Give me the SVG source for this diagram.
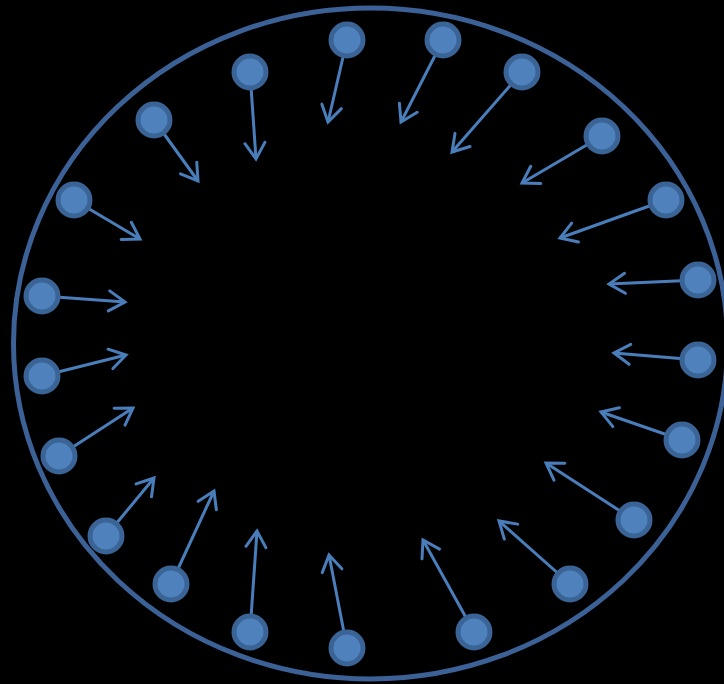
<svg xmlns="http://www.w3.org/2000/svg" width="724" height="684" viewBox="0 0 724 684">
<defs>
<marker id="ah" markerUnits="userSpaceOnUse" markerWidth="24" markerHeight="24" viewBox="-20 -12 24 24" refX="0" refY="0" orient="auto" overflow="visible">
<path d="M -16 -10 L 0 0 L -16 10" fill="none" stroke="#4a7ebb" stroke-width="3" stroke-linecap="round" stroke-linejoin="miter"/>
</marker>
</defs>
<style>
.n{fill:#4f81bd;stroke:#3a6396;stroke-width:5}
.c{stroke:#4a7ebb;stroke-width:3;fill:none;marker-end:url(#ah)}
</style>
<rect width="724" height="684" fill="#000"/>
<ellipse id="ring" cx="370.5" cy="343.5" rx="357" ry="335.5" fill="none" stroke="#3b6196" stroke-width="5"/>
<g id="connectors">
<line class="c" x1="347" y1="40" x2="328" y2="122"/>
<line class="c" x1="443" y1="40" x2="401" y2="122"/>
<line class="c" x1="522" y1="72" x2="452" y2="152"/>
<line class="c" x1="602" y1="136" x2="522" y2="183"/>
<line class="c" x1="666" y1="200" x2="560" y2="238"/>
<line class="c" x1="698" y1="280" x2="609" y2="284"/>
<line class="c" x1="698" y1="360" x2="614" y2="353"/>
<line class="c" x1="682" y1="440" x2="601" y2="412"/>
<line class="c" x1="634" y1="520" x2="546" y2="463"/>
<line class="c" x1="570" y1="584" x2="499" y2="521"/>
<line class="c" x1="474" y1="632" x2="423" y2="540"/>
<line class="c" x1="347" y1="648" x2="329" y2="555"/>
<line class="c" x1="250" y1="632" x2="257" y2="531"/>
<line class="c" x1="171" y1="584" x2="214" y2="491"/>
<line class="c" x1="106" y1="536" x2="154" y2="478"/>
<line class="c" x1="59" y1="456" x2="133" y2="408"/>
<line class="c" x1="42" y1="376" x2="126" y2="355"/>
<line class="c" x1="42" y1="296" x2="125" y2="302"/>
<line class="c" x1="74" y1="200" x2="140" y2="239"/>
<line class="c" x1="154" y1="120" x2="198" y2="181"/>
<line class="c" x1="250" y1="72" x2="256" y2="159"/>
</g>
<g id="n1"><circle class="n" cx="347" cy="40" r="16"/></g>
<g id="n2"><circle class="n" cx="443" cy="40" r="16"/></g>
<g id="n3"><circle class="n" cx="522" cy="72" r="16"/></g>
<g id="n4"><circle class="n" cx="602" cy="136" r="16"/></g>
<g id="n5"><circle class="n" cx="666" cy="200" r="16"/></g>
<g id="n6"><circle class="n" cx="698" cy="280" r="16"/></g>
<g id="n7"><circle class="n" cx="698" cy="360" r="16"/></g>
<g id="n8"><circle class="n" cx="682" cy="440" r="16"/></g>
<g id="n9"><circle class="n" cx="634" cy="520" r="16"/></g>
<g id="n10"><circle class="n" cx="570" cy="584" r="16"/></g>
<g id="n11"><circle class="n" cx="474" cy="632" r="16"/></g>
<g id="n12"><circle class="n" cx="347" cy="648" r="16"/></g>
<g id="n13"><circle class="n" cx="250" cy="632" r="16"/></g>
<g id="n14"><circle class="n" cx="171" cy="584" r="16"/></g>
<g id="n15"><circle class="n" cx="106" cy="536" r="16"/></g>
<g id="n16"><circle class="n" cx="59" cy="456" r="16"/></g>
<g id="n17"><circle class="n" cx="42" cy="376" r="16"/></g>
<g id="n18"><circle class="n" cx="42" cy="296" r="16"/></g>
<g id="n19"><circle class="n" cx="74" cy="200" r="16"/></g>
<g id="n20"><circle class="n" cx="154" cy="120" r="16"/></g>
<g id="n21"><circle class="n" cx="250" cy="72" r="16"/></g>
</svg>
